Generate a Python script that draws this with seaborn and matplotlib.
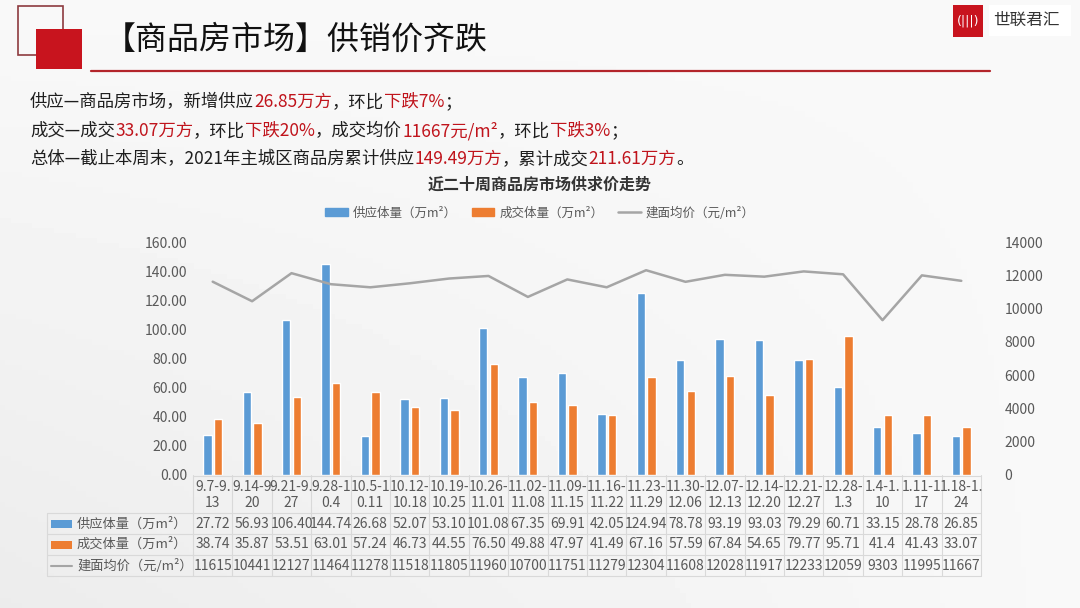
import numpy as np
import pandas as pd
import matplotlib
matplotlib.use("Agg")
import matplotlib.pyplot as plt
from matplotlib.patches import Rectangle, Patch
from matplotlib.lines import Line2D
import seaborn as sns

# ---------------- data ----------------
weeks = ["9.7-9.13", "9.14-9.20", "9.21-9.27", "9.28-10.4", "10.5-10.11",
         "10.12-10.18", "10.19-10.25", "10.26-11.01", "11.02-11.08", "11.09-11.15",
         "11.16-11.22", "11.23-11.29", "11.30-12.06", "12.07-12.13", "12.14-12.20",
         "12.21-12.27", "12.28-1.3", "1.4-1.10", "1.11-1.17", "1.18-1.24"]
# how the week labels wrap in the table header
week_labels = ["9.7-9.\n13", "9.14-9\n20", "9.21-9.\n27", "9.28-1\n0.4", "10.5-1\n0.11",
               "10.12-\n10.18", "10.19-\n10.25", "10.26-\n11.01", "11.02-\n11.08", "11.09-\n11.15",
               "11.16-\n11.22", "11.23-\n11.29", "11.30-\n12.06", "12.07-\n12.13", "12.14-\n12.20",
               "12.21-\n12.27", "12.28-\n1.3", "1.4-1.\n10", "1.11-1\n17", "1.18-1.\n24"]
supply = [27.72, 56.93, 106.40, 144.74, 26.68, 52.07, 53.10, 101.08, 67.35, 69.91,
          42.05, 124.94, 78.78, 93.19, 93.03, 79.29, 60.71, 33.15, 28.78, 26.85]
deal = [38.74, 35.87, 53.51, 63.01, 57.24, 46.73, 44.55, 76.50, 49.88, 47.97,
        41.49, 67.16, 57.59, 67.84, 54.65, 79.77, 95.71, 41.40, 41.43, 33.07]
price = [11615, 10441, 12127, 11464, 11278, 11518, 11805, 11960, 10700, 11751,
         11279, 12304, 11608, 12028, 11917, 12233, 12059, 9303, 11995, 11667]

s_supply = "供应体量（万m²）"
s_deal = "成交体量（万m²）"
s_price = "建面均价（元/m²）"

BLUE = "#5B9BD5"
ORANGE = "#ED7D31"
GRAY = "#A5A5A5"
RED = "#C0141C"
TXT = "#595959"

df = pd.DataFrame({"week": weeks * 2,
                   "series": [s_supply] * 20 + [s_deal] * 20,
                   "value": supply + deal})

# ---------------- style ----------------
sns.set_theme(style="white")
plt.rcParams["font.family"] = ["Noto Sans CJK SC", "DejaVu Sans"]

W, H = 1080, 608
fig = plt.figure(figsize=(W / 100, H / 100), dpi=100)

# background gradient
bg = fig.add_axes([0, 0, 1, 1], zorder=-5)
gx, gy = np.meshgrid(np.linspace(0, 1, 200), np.linspace(0, 1, 120))
grad = 0.975 - 0.05 * (1 - gx) * gy
bg.imshow(grad, cmap="gray", vmin=0, vmax=1, aspect="auto", extent=[0, 1, 0, 1], origin="upper")
bg.axis("off")

# main chart area (pixel box)
X0, X1, Y0, Y1 = 193, 981, 242, 475
ax = fig.add_axes([X0 / W, 1 - Y1 / H, (X1 - X0) / W, (Y1 - Y0) / H])
ax.patch.set_alpha(0)

sns.barplot(data=df, x="week", y="value", hue="series", hue_order=[s_supply, s_deal],
            palette=[BLUE, ORANGE], width=0.54, gap=0.2, ax=ax, legend=False, saturation=1)
ax.set_ylim(0, 160)
ax.set_yticks(np.arange(0, 161, 20))
ax.set_yticklabels([f"{v:.2f}" for v in np.arange(0, 161, 20)])
ax.set_xticks([])
ax.set_xlabel("")
ax.set_ylabel("")
ax.tick_params(axis="y", length=0, pad=4, labelsize=10, labelcolor=TXT)
for sp in ax.spines.values():
    sp.set_visible(False)

ax2 = ax.twinx()
sns.lineplot(x=np.arange(20), y=price, ax=ax2, color=GRAY, lw=1.8)
ax2.set_ylim(0, 14000)
ax2.set_yticks(np.arange(0, 14001, 2000))
ax2.tick_params(axis="y", length=0, pad=17, labelsize=10, labelcolor=TXT)
for sp in ax2.spines.values():
    sp.set_visible(False)
ax.set_xlim(-0.5, 19.5)

# overlay in pixel coordinates for texts and table
ov = fig.add_axes([0, 0, 1, 1], zorder=5)
ov.set_xlim(0, W)
ov.set_ylim(H, 0)
ov.axis("off")

# header decoration
ov.add_patch(Rectangle((18, 6), 45, 49, fill=False, ec="#8E3B3F", lw=1.2))
ov.add_patch(Rectangle((36, 29), 46, 40, fc="#C8141E", ec="none"))
ov.plot([91, 990], [71, 71], color="#B3252B", lw=1.6)
ov.text(104, 40, "【商品房市场】供销价齐跌", fontsize=23, color="#111111", va="center")

# logo
ov.add_patch(Rectangle((989, 5), 82, 31, fc="white", ec="none"))
ov.add_patch(Rectangle((953, 5), 30, 32, fc="#C8141E", ec="none"))
ov.text(968, 21, "(|||)", fontsize=9, color="white", ha="center", va="center",
        family=["DejaVu Sans"])
ov.text(993, 20, "世联君汇", fontsize=12, color="#333333", va="center")


def rich(x, y, parts, size=12.5):
    t = ov.text(x, y, parts[0][0], color=parts[0][1], fontsize=size, va="bottom")
    for s, c in parts[1:]:
        t = ov.annotate(s, xy=(1, 0), xycoords=t, va="bottom", ha="left", color=c, fontsize=size)


K = "#1E1E1E"
rich(30, 111, [("供应—商品房市场，新增供应", K), ("26.85万方", RED), ("，环比", K),
               ("下跌7%", RED), ("；", K)])
rich(30, 140, [("成交—成交", K), ("33.07万方", RED), ("，环比", K), ("下跌20%", RED),
               ("，成交均价", K), ("11667元/m²", RED), ("，环比", K), ("下跌3%", RED), ("；", K)])
rich(30, 168, [("总体—截止本周末，2021年主城区商品房累计供应", K), ("149.49万方", RED),
               ("，累计成交", K), ("211.61万方", RED), ("。", K)])

# chart title and legend
ov.text(540, 185, "近二十周商品房市场供求价走势", fontsize=11.5, fontweight="bold",
        color="#333333", ha="center", va="center")
handles = [Patch(color=BLUE, label=s_supply), Patch(color=ORANGE, label=s_deal),
           Line2D([], [], color=GRAY, lw=1.8, label=s_price)]
leg = fig.legend(handles=handles, loc="center", bbox_to_anchor=(540 / W, 1 - 213 / H), ncol=3,
                 frameon=False, fontsize=9, handlelength=1.8, handleheight=0.55,
                 columnspacing=1.2, handletextpad=0.4)
for t in leg.get_texts():
    t.set_color(TXT)

# data table under the chart
cw = (X1 - X0) / 20
rows_y = [513, 534, 555, 576]
GRID = "#D9D9D9"
ov.plot([X0, X1], [Y1 + 0.5, Y1 + 0.5], color=GRID, lw=0.8)
for yy in rows_y:
    ov.plot([47, X1], [yy, yy], color=GRID, lw=0.8)
for k in range(21):
    ov.plot([X0 + k * cw] * 2, [Y1, rows_y[-1]], color=GRID, lw=0.8)
ov.plot([47, 47], [rows_y[0], rows_y[-1]], color=GRID, lw=0.8)

for k in range(20):
    cx = X0 + (k + 0.5) * cw
    ov.text(cx, 495, week_labels[k], fontsize=10, color=TXT, ha="center", va="center",
            linespacing=1.15)
    ov.text(cx, 524, f"{supply[k]:.2f}", fontsize=10, color=TXT, ha="center", va="center")
    # source table prints 41.4 without the trailing zero
    dtxt = "41.4" if k == 17 else f"{deal[k]:.2f}"
    ov.text(cx, 544.5, dtxt, fontsize=10, color=TXT, ha="center", va="center")
    ov.text(cx, 565.5, f"{price[k]}", fontsize=10, color=TXT, ha="center", va="center")

ov.add_patch(Rectangle((51, 520), 21, 8, fc=BLUE, ec="none"))
ov.add_patch(Rectangle((51, 541), 21, 8, fc=ORANGE, ec="none"))
ov.plot([51, 72], [565.5, 565.5], color=GRAY, lw=1.5)
ov.text(77, 524, s_supply, fontsize=9.5, color=TXT, va="center")
ov.text(77, 544.5, s_deal, fontsize=9.5, color=TXT, va="center")
ov.text(77, 565.5, s_price, fontsize=9.5, color=TXT, va="center")

fig.savefig("out.png", dpi=100)
